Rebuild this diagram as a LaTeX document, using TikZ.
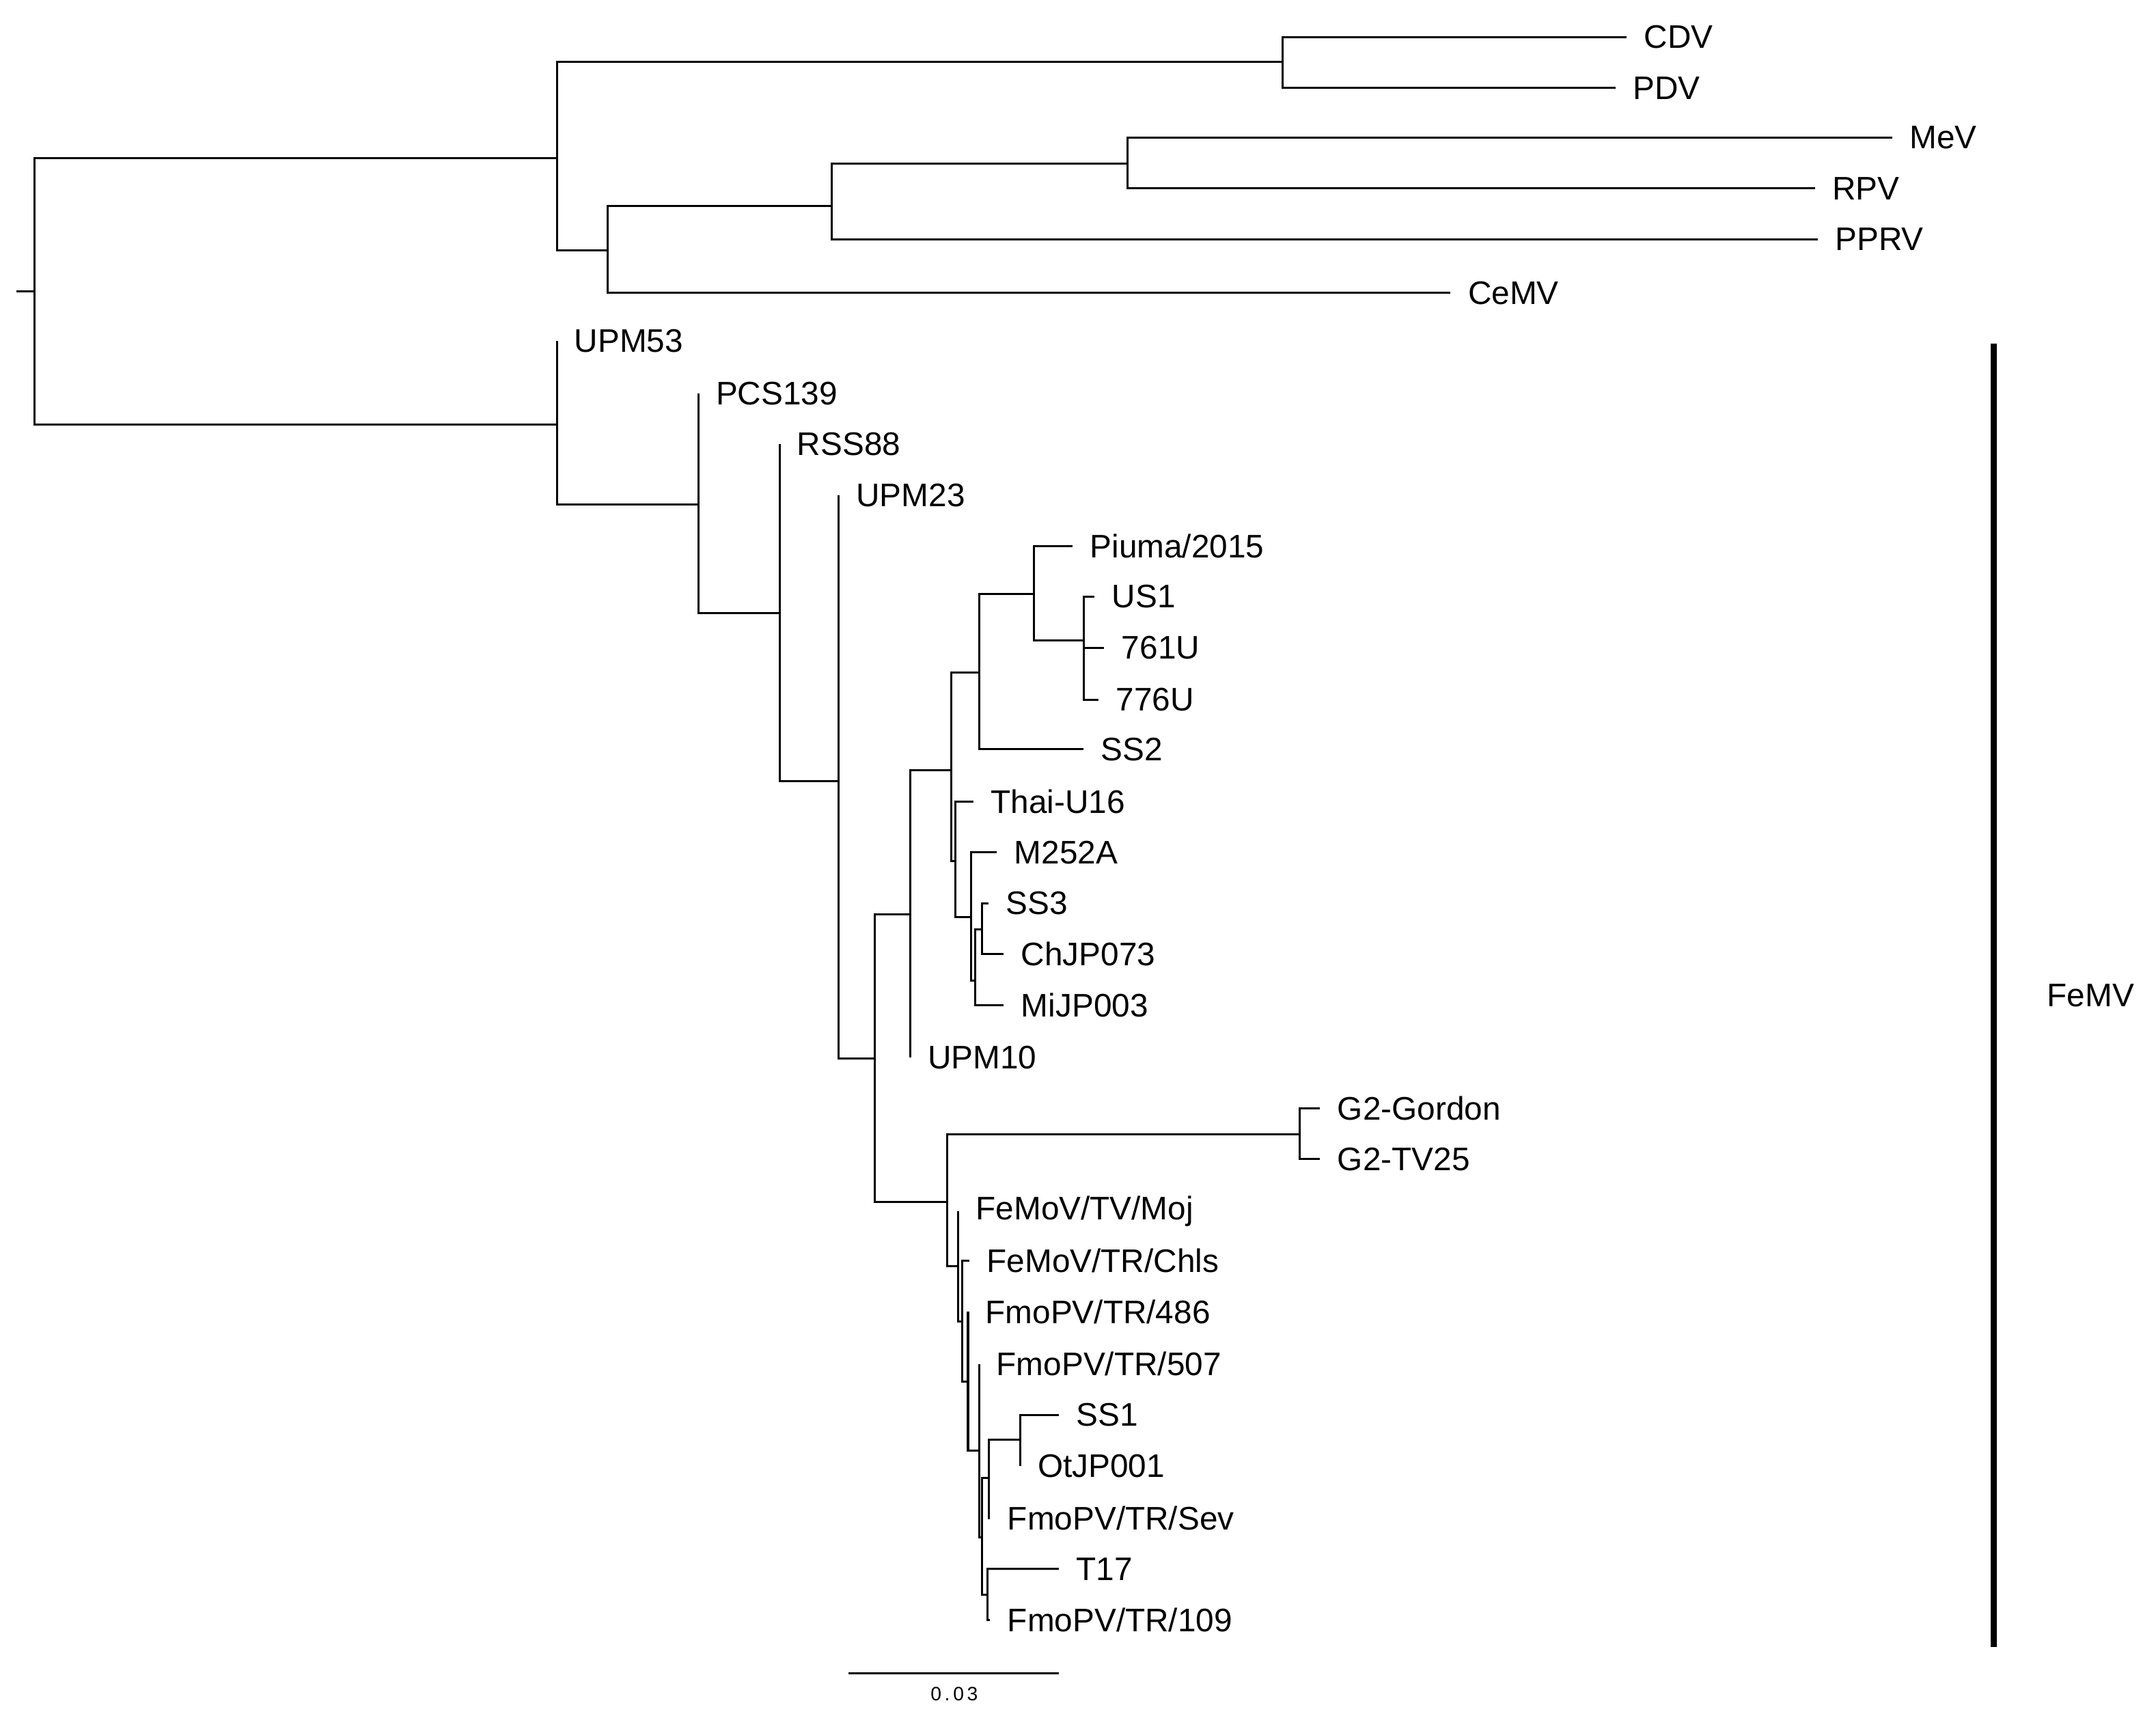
\documentclass[tikz,border=0pt]{standalone}
\usepackage{fontspec}
\setmainfont{Liberation Sans}
\begin{document}
\begin{tikzpicture}[x=0.02cm,y=-0.02cm,line width=0.85pt,
  lab/.style={anchor=west,inner sep=0pt,xshift=0.24cm,font=\fontsize{13.5}{16}\selectfont},
  br/.style={line cap=rect}]
\useasboundingbox (0,0) rectangle (1568,1248);
% internal nodes
\coordinate (s) at (12,212);
\coordinate (r) at (25,212);
\coordinate (t1) at (405,115);
\coordinate (cp) at (933,45);
\coordinate (mc) at (442,182);
\coordinate (mr) at (605,150);
\coordinate (mrv) at (820,119);
\coordinate (f1) at (405,309);
\coordinate (f2) at (508,367);
\coordinate (f3) at (567,446);
\coordinate (f4) at (610,568);
\coordinate (f5) at (636,770);
\coordinate (f6) at (662,665);
\coordinate (f8) at (692,560);
\coordinate (f9) at (712,489);
\coordinate (f11) at (752,432);
\coordinate (f12) at (788,466);
\coordinate (f10) at (695,626);
\coordinate (f13) at (706,667);
\coordinate (f14) at (709,713);
\coordinate (f15) at (714,676);
\coordinate (f7) at (689,874);
\coordinate (f16) at (945,825);
\coordinate (n1) at (697,921);
\coordinate (n2) at (700,961);
\coordinate (n3) at (704,1005);
\coordinate (n4) at (712,1055);
\coordinate (n5) at (714,1118);
\coordinate (sv) at (719,1075);
\coordinate (so) at (742,1047);
\coordinate (tt) at (718,1160);
% tips
\foreach \n/\x/\y/\t in {CDV/1183/27/CDV, PDV/1175/64/PDV, MeV/1376/100/MeV, RPV/1320/137/RPV,
  PPRV/1322/174/PPRV, CeMV/1055/213/CeMV, UPMa/405/248/UPM53, PCS/508/286/PCS139,
  RSS/567/323/RSS88, UPMb/610/360/UPM23, Piu/780/397/Piuma\slash 2015, US/796/434/US1,
  U761/803/471/761U, U776/799/509/776U, SSb/788/545/SS2, Thai/708/583/Thai-U16,
  M252/725/620/M252A, SSc/719/657/SS3, Ch/730/694/ChJP073, Mi/730/731/MiJP003,
  UPMc/662/769/UPM10, Gor/960/806/G2-Gordon, TV/960/843/G2-TV25,
  Moj/697/881/FeMoV\slash TV\slash Moj, Chls/705/917/FeMoV\slash TR\slash Chls,
  P486/704/954/FmoPV\slash TR\slash 486, P507/712/992/FmoPV\slash TR\slash 507,
  SSa/770/1029/SS1, Ot/742/1066/OtJP001, Sev/720/1104/FmoPV\slash TR\slash Sev,
  T17/770/1141/T17, P109/720/1178/FmoPV\slash TR\slash 109}
  {\coordinate (\n) at (\x,\y); \node[lab] (L\n) at (\n) {\t};}
% branches
\draw (s) -- (r);
\foreach \p/\c in {r/t1, r/f1, t1/cp, t1/mc, cp/CDV, cp/PDV, mc/mr, mc/CeMV, mr/mrv, mr/PPRV,
  mrv/MeV, mrv/RPV, f1/UPMa, f1/f2, f2/PCS, f2/f3, f3/RSS, f3/f4, f4/UPMb, f4/f5,
  f5/f6, f5/f7, f6/f8, f6/UPMc, f8/f9, f8/f10, f9/f11, f9/SSb, f11/Piu, f11/f12,
  f12/US, f12/U761, f12/U776, f10/Thai, f10/f13, f13/M252, f13/f14, f14/f15, f14/Mi,
  f15/SSc, f15/Ch, f7/f16, f7/n1, f16/Gor, f16/TV, n1/Moj, n1/n2, n2/Chls, n2/n3,
  n3/P486, n3/n4, n4/P507, n4/n5, n5/sv, n5/tt, sv/so, sv/Sev, so/SSa, so/Ot,
  tt/T17, tt/P109}
  {\draw (\p) |- (\c);}
% FeMV bar
\coordinate (b1) at (1450,250);
\coordinate (b2) at (1450,1198);
\draw[line width=2.8pt] (b1) -- (b2);
\node[anchor=west,inner sep=0pt,font=\fontsize{13.5}{16}\selectfont] (fem) at (1488,724) {FeMV};
% scale bar
\coordinate (sb1) at (617,1217);
\coordinate (sb2) at (770,1217);
\draw (sb1) -- (sb2);
\node[font=\fontsize{8}{10}\selectfont] (sc) at (694,1232) {0\,.\,0\,3};
\end{tikzpicture}
\end{document}
